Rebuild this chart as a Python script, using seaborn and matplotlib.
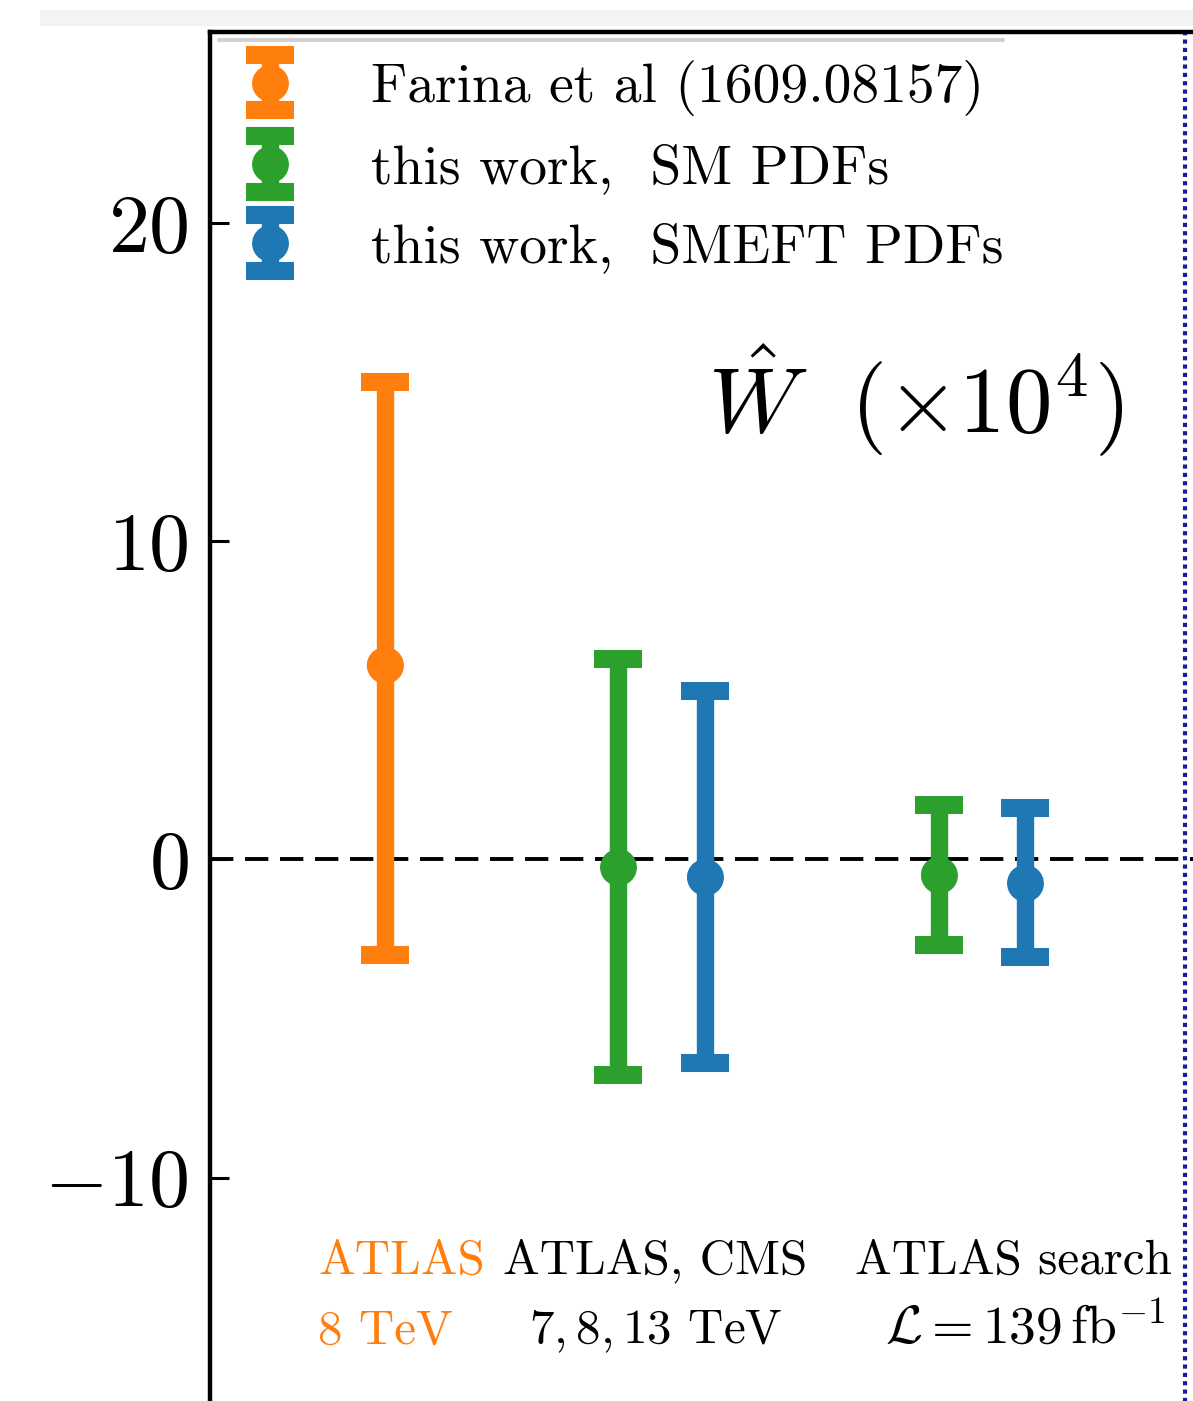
import numpy as np
import pandas as pd
import matplotlib
matplotlib.use("Agg")
import matplotlib.pyplot as plt
from matplotlib.patches import Rectangle
from matplotlib.lines import Line2D
import seaborn as sns

# ---------------- data ----------------
labels = ["Farina et al (1609.08157)", "this work,  SM PDFs", "this work,  SMEFT PDFs"]
series = ["farina", "sm", "smeft", "sm", "smeft"]
x_pos = [0.0, 0.73, 1.0, 1.73, 2.0]
central = [6.1, -0.24, -0.56, -0.48, -0.73]
upper = [15.0, 6.31, 5.30, 1.70, 1.60]
lower = [-3.0, -6.79, -6.39, -2.70, -3.08]
yticks = [-10, 0, 10, 20]
group_line1 = ["ATLAS", "ATLAS, CMS", "ATLAS search"]
group_line2 = ["8 TeV", r"$7, 8, 13$ TeV", r"$\mathcal{L} = 139\,\mathrm{fb}^{-1}$"]

df = pd.DataFrame({"x": x_pos, "y": central, "lo": lower, "hi": upper, "series": series})

# ---------------- style ----------------
sns.set_theme(style="ticks")
plt.rcParams["font.family"] = ["serif"]
plt.rcParams["font.serif"] = ["cmr10", "DejaVu Serif"]
plt.rcParams["mathtext.fontset"] = "cm"
plt.rcParams["axes.formatter.use_mathtext"] = True
plt.rcParams["axes.unicode_minus"] = True
plt.rcParams["text.color"] = "black"
plt.rcParams["axes.labelcolor"] = "black"
plt.rcParams["xtick.color"] = "black"
plt.rcParams["ytick.color"] = "black"
plt.rcParams["legend.labelcolor"] = "black"

pal = sns.color_palette("tab10")
colors = {"farina": pal[1], "sm": pal[2], "smeft": pal[0]}

W, H = 1193, 1401
fig = plt.figure(figsize=(W / 100, H / 100), dpi=100)
fig.patch.set_facecolor("white")

# axes geometry (pixels) -> extends beyond the visible crop
x_left, x_right = -0.545, 2.6
y_bot, y_top = -20.0, 26.0
px_left, px_top = 210.0, 32.0
ppx = 320.3   # pixels per x unit
ppy = 31.82   # pixels per y unit
px_right = px_left + (x_right - x_left) * ppx
px_bot = px_top + (y_top - y_bot) * ppy
ax = fig.add_axes([px_left / W, (H - px_bot) / H, (px_right - px_left) / W, (px_bot - px_top) / H])
ax.set_xlim(x_left, x_right)
ax.set_ylim(y_bot, y_top)
ax.set_facecolor("white")

# zero line and panel separator
ax.axhline(0, color="black", lw=2.8, ls=(0, (6.0, 3.0)), zorder=1)
ax.axvline(2.5, color="#1a1a9a", lw=3.0, ls=(0, (1, 1)), zorder=1)

# error bars
msize = 25.5
handles = {}
for _, r in df.iterrows():
    c = colors[r["series"]]
    eb = ax.errorbar(r["x"], r["y"], yerr=[[r["y"] - r["lo"]], [r["hi"] - r["y"]]],
                     fmt="o", color=c, ecolor=c, elinewidth=12.5, capsize=17, capthick=13,
                     markersize=msize, zorder=3)
    handles.setdefault(r["series"], eb)

# central points through seaborn
sns.scatterplot(data=df, x="x", y="y", hue="series", palette=colors, s=msize ** 2,
                linewidth=0, legend=False, ax=ax, zorder=4)
ax.set_xlabel("")
ax.set_ylabel("")

# ticks / spines
ax.set_xticks([])
ax.set_yticks(yticks)
ax.tick_params(axis="y", direction="in", length=14, width=2.2, labelsize=59, pad=15.5, colors="black")
for s in ["left", "top", "right", "bottom"]:
    ax.spines[s].set_linewidth(3.2)
    ax.spines[s].set_color("black")

# legend
leg = ax.legend([handles["farina"], handles["sm"], handles["smeft"]], labels,
                loc="upper left", bbox_to_anchor=(178 / W, 1 - 10 / H), bbox_transform=fig.transFigure,
                frameon=False, fontsize=40, handlelength=1.5, handletextpad=1.08,
                labelspacing=0.5, borderpad=0.4)
for t in leg.get_texts():
    t.set_color("black")

# title
ax.text(1.659, 14.45, r"$\hat{W}\ \ (\times 10^4)$", fontsize=67, ha="center", va="center")

# group labels
fs = 35.3
ax.text(-0.208, (859 - 1273) / ppy, group_line1[0], color=pal[1], fontsize=fs, ha="left", va="baseline")
ax.text(-0.208, (859 - 1343) / ppy, group_line2[0], color=pal[1], fontsize=fs, ha="left", va="baseline")
ax.text(0.846, (859 - 1273) / ppy, group_line1[1], color="black", fontsize=fs, ha="center", va="baseline")
ax.text(0.846, (859 - 1343) / ppy, group_line2[1], color="black", fontsize=fs, ha="center", va="baseline")
ax.text(1.962, (859 - 1273) / ppy, group_line1[2], color="black", fontsize=fs, ha="center", va="baseline")
ax.text(1.999, (859 - 1343) / ppy, group_line2[2], color="black", fontsize=38.5, ha="center", va="baseline")

# screenshot decorations
fig.add_artist(Rectangle((40 / W, 1 - 26 / H), 1 - 40 / W, 16 / H, transform=fig.transFigure,
                         facecolor="#f3f3f3", edgecolor="none", zorder=0))
fig.add_artist(Line2D([219 / W, 1003 / W], [1 - 39.5 / H, 1 - 39.5 / H], transform=fig.transFigure,
                      color="#d2d2d2", lw=3, zorder=5))

fig.savefig("out.png", dpi=100)
